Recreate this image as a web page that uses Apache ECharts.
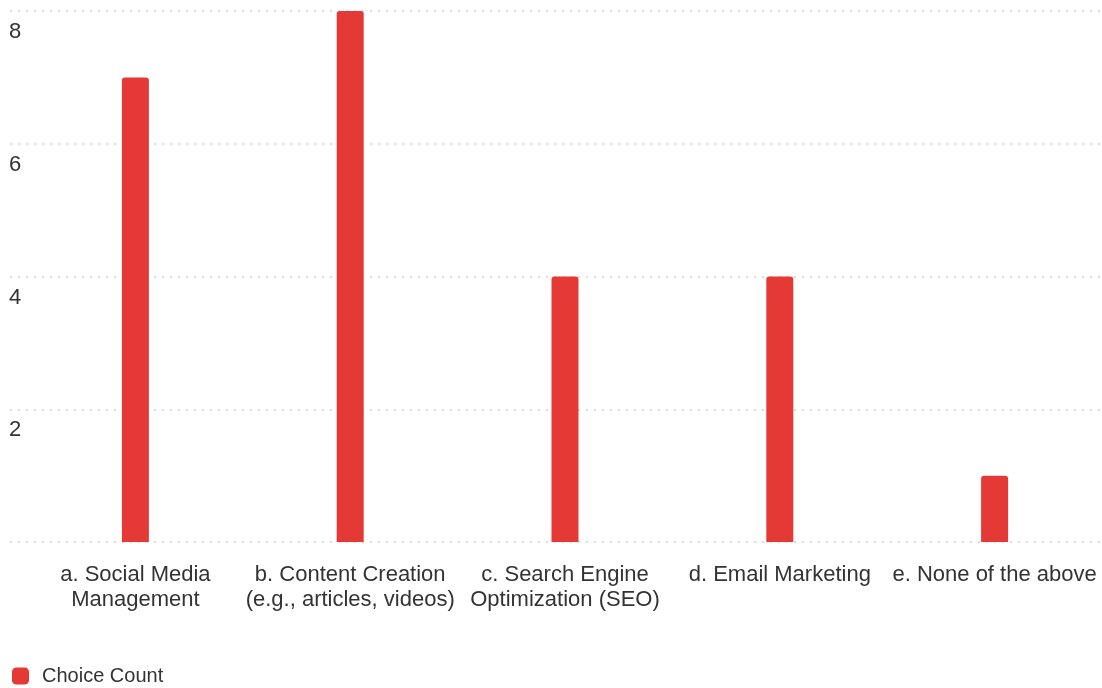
<!DOCTYPE html>
<html lang="en">
<head>
    <meta charset="UTF-8">
    <title>Choice Count</title>
    <script src="https://cdn.jsdelivr.net/npm/echarts@6/dist/echarts.min.js"></script>
    <style>
        html, body { margin: 0; padding: 0; background: #fff; }
    </style>
</head>
<body>
    <div id="chart" style="width: 1102px;height:688px"></div>
<script>
    var categories = [
        'a. Social Media\nManagement',
        'b. Content Creation\n(e.g., articles, videos)',
        'c. Search Engine\nOptimization (SEO)',
        'd. Email Marketing',
        'e. None of the above'
    ];
    var choiceCount = [7, 8, 4, 4, 1];
    var yMin = 0, yMax = 8, yStep = 2;

    var chart = echarts.init(document.getElementById('chart'));

    var option = {
        textStyle: { fontFamily: 'Liberation Sans' },
        legend: {
            left: 12,
            top: 666,
            padding: 0,
            icon: 'roundRect',
            itemWidth: 17,
            itemHeight: 17,
            itemGap: 10,
            textStyle: { color: '#333', fontSize: 20, padding: [0, 0, 0, 8] },
            data: ['Choice Count']
        },
        grid: [
            // gridlines + y labels
            { left: 10, right: 2, top: 11, bottom: 146 },
            // bars (band slightly wider than the gridlines)
            { left: 28, width: 1077, top: 11, bottom: 146 }
        ],
        xAxis: [{
            gridIndex: 0,
            type: 'value',
            show: false
        }, {
            gridIndex: 1,
            type: 'category',
            data: categories,
            axisLine: { show: false },
            axisTick: { show: false },
            axisLabel: {
                interval: 0,
                margin: 20,
                color: '#333',
                fontSize: 22,
                lineHeight: 25
            }
        }],
        yAxis: [{
            gridIndex: 0,
            type: 'value',
            min: yMin,
            max: yMax,
            interval: yStep,
            axisLine: { show: false },
            axisTick: { show: false },
            axisLabel: {
                inside: true,
                margin: -1,
                showMinLabel: false,
                verticalAlign: 'top',
                padding: [10, 0, 0, 0],
                color: '#333',
                fontSize: 22
            },
            splitLine: {
                lineStyle: { color: '#dcdcdc', width: 2, type: [2, 6] }
            }
        }, {
            gridIndex: 1,
            type: 'value',
            min: yMin,
            max: yMax,
            interval: yStep,
            show: false,
            splitLine: { show: false }
        }],
        series: [{
            name: 'Choice Count',
            type: 'bar',
            xAxisIndex: 1,
            yAxisIndex: 1,
            barWidth: 27,
            itemStyle: {
                color: '#e53935',
                borderRadius: [3, 3, 0, 0]
            },
            data: choiceCount
        }]
    };
    chart.setOption(option);
</script>
</body>
</html>
